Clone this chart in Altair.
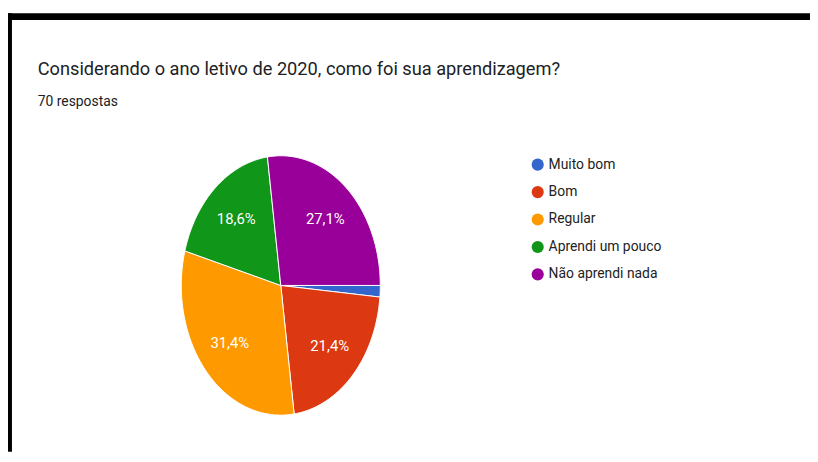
import altair as alt
import pandas as pd

categories = ["Muito bom", "Bom", "Regular", "Aprendi um pouco", "Não aprendi nada"]
counts = [1, 15, 22, 13, 19]
colors = ["#3366CC", "#DC3912", "#FF9900", "#109618", "#990099"]
title_text = "Considerando o ano letivo de 2020, como foi sua aprendizagem?"
subtitle_text = "70 respostas"

df = pd.DataFrame({"cat": categories, "count": counts, "idx": list(range(len(categories)))})

W, H = 810, 446

xs = alt.Scale(domain=[-1, 1], range=[175, 376])
ys = alt.Scale(domain=[-1, 1], range=[409, 147])
color_scale = alt.Scale(domain=categories, range=colors)

base = alt.Chart(df).transform_joinaggregate(
    total="sum(count)"
).transform_window(
    cum="sum(count)", sort=[alt.SortField("idx")]
).transform_calculate(
    a0="PI/2 + 2*PI*(datum.cum - datum.count)/datum.total",
    a1="PI/2 + 2*PI*datum.cum/datum.total",
)

slices = base.transform_calculate(
    k="sequence(-1, 61)"
).transform_flatten(["k"]).transform_calculate(
    ang="datum.a0 + (datum.a1 - datum.a0) * datum.k / 60",
    px="datum.k < 0 ? 0 : sin(datum.ang)",
    py="datum.k < 0 ? 0 : cos(datum.ang)",
).mark_line(
    interpolate="linear-closed", stroke="white", strokeWidth=1, strokeJoin="round"
).encode(
    x=alt.X("px:Q", scale=xs, axis=None),
    y=alt.Y("py:Q", scale=ys, axis=None),
    fill=alt.Fill(
        "cat:N",
        scale=color_scale,
        legend=alt.Legend(
            orient="none",
            legendX=528,
            legendY=149,
            title=None,
            symbolType="circle",
            symbolSize=150,
            symbolStrokeWidth=0,
            labelFontSize=14,
            labelFont="Roboto",
            labelColor="#222222",
            rowPadding=13.7,
            labelOffset=4,
        ),
    ),
    detail="cat:N",
    order="k:Q",
)

labels = base.transform_filter(
    "datum.count / datum.total > 0.05"
).transform_calculate(
    mid="(datum.a0 + datum.a1) / 2",
    lx="0.68 * sin(datum.mid)",
    ly="0.68 * cos(datum.mid)",
    lab="replace(format(100 * datum.count / datum.total, '.1f'), '.', ',') + '%'",
).mark_text(
    font="Roboto", fontSize=15, color="white", baseline="middle", align="center"
).encode(
    x=alt.X("lx:Q", scale=xs, axis=None),
    y=alt.Y("ly:Q", scale=ys, axis=None),
    text="lab:N",
)

one = pd.DataFrame({"t": [title_text], "s": [subtitle_text]})

title = alt.Chart(one).mark_text(
    align="left", baseline="alphabetic", font="Roboto", fontSize=18.4, color="#202124"
).encode(x=alt.value(30), y=alt.value(65.5), text="t:N")

subtitle = alt.Chart(one).mark_text(
    align="left", baseline="alphabetic", font="Roboto", fontSize=14, color="#202124"
).encode(x=alt.value(30), y=alt.value(97), text="s:N")

top_bar = alt.Chart(one).mark_rect(color="black").encode(
    x=alt.value(-1), x2=alt.value(W), y=alt.value(3), y2=alt.value(10)
)
left_bar = alt.Chart(one).mark_rect(color="black").encode(
    x=alt.value(-1), x2=alt.value(4), y=alt.value(3), y2=alt.value(H)
)

chart = alt.layer(top_bar, left_bar, slices, labels, title, subtitle).properties(
    width=W, height=H, autosize="none", padding=0
).configure_view(stroke=None)

chart.save("out.html", embed_options={"renderer": "svg", "actions": False})
